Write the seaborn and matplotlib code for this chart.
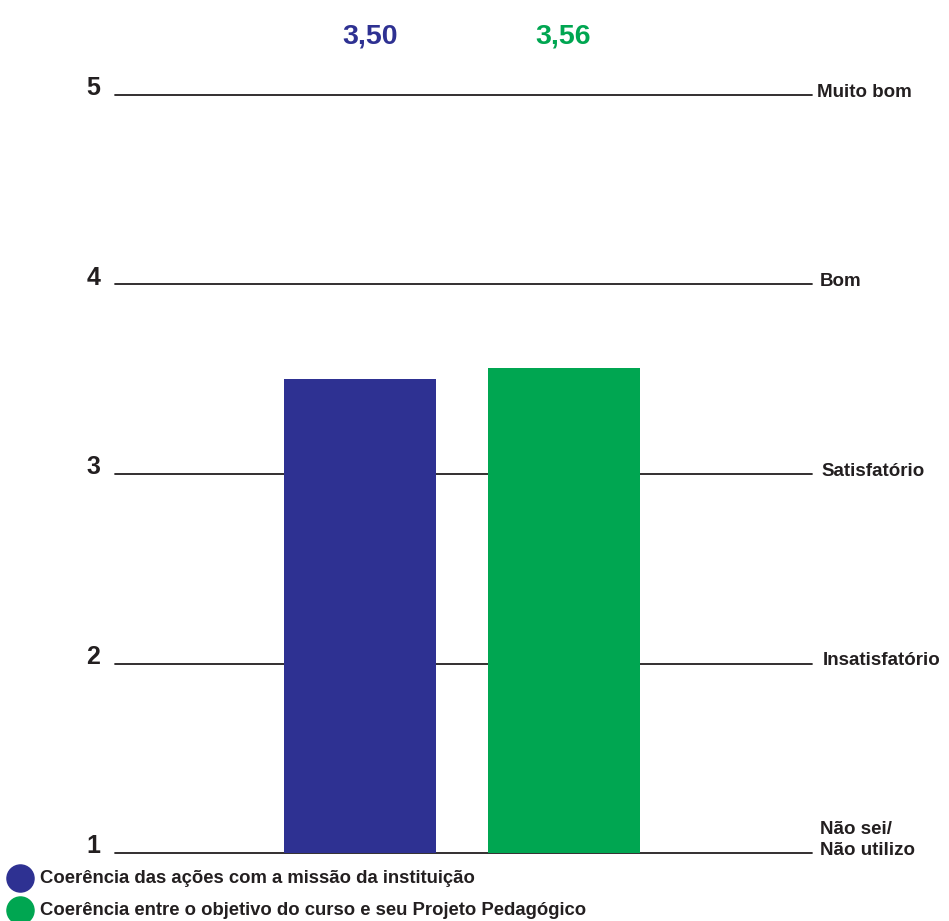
import matplotlib
matplotlib.use("Agg")
import matplotlib.pyplot as plt
from matplotlib.lines import Line2D
import seaborn as sns
import pandas as pd

categories = ["Coerência das ações com a missão da instituição",
              "Coerência entre o objetivo do curso e seu Projeto Pedagógico"]
values = [3.50, 3.56]
value_labels = ["3,50", "3,56"]
colors = ["#2E3192", "#00A651"]
scale_ticks = [1, 2, 3, 4, 5]
scale_labels = ["Não sei/\nNão utilizo", "Insatisfatório", "Satisfatório", "Bom", "Muito bom"]

sns.set_theme(style="white")
plt.rcParams['font.family'] = ['Liberation Sans', 'DejaVu Sans']
TXT = "#231F20"

fig = plt.figure(figsize=(9.49, 9.21), dpi=100)
ax = fig.add_axes([115/949, 68/921, 697/949, 758/921])

df = pd.DataFrame({"cat": categories, "val": values})
sns.barplot(data=df, x="cat", y="val", hue="cat", palette=colors,
            width=0.747, saturation=1, legend=False, ax=ax, zorder=3,
            linewidth=0, edgecolor="none")

ax.set_ylim(1, 5)
ax.set_xlim(-1.204, 2.221)

for t in scale_ticks:
    ax.axhline(t, color="#231F20", lw=1.3, zorder=1, clip_on=False)

for s in ax.spines.values():
    s.set_visible(False)
ax.set_xticks([])
ax.set_yticks([])
ax.set_xlabel("")
ax.set_ylabel("")

# left numeric labels
for t in scale_ticks:
    ax.text(-0.031, t + 0.035, str(t), transform=ax.get_yaxis_transform(),
            ha="center", va="center", fontsize=18, fontweight="bold", color=TXT)

# right descriptive labels
x_offsets = {5: 1.007, 4: 1.011, 3: 1.014, 2: 1.015, 1: 1.011}
for t, lab in zip(scale_ticks, scale_labels):
    if "\n" in lab:
        ax.text(x_offsets[t], t - 0.03, lab, transform=ax.get_yaxis_transform(),
                ha="left", va="bottom", fontsize=13.5, fontweight="bold",
                color=TXT, linespacing=1.3)
    else:
        ax.text(x_offsets[t], t + 0.015, lab, transform=ax.get_yaxis_transform(),
                ha="left", va="center", fontsize=13.5, fontweight="bold", color=TXT)

# value labels on top
for i, (v, lab, c) in enumerate(zip(values, value_labels, colors)):
    ax.text(i + 0.05 * (1 - i), 1.077, lab, transform=ax.get_xaxis_transform(),
            ha="center", va="center", fontsize=20.5, fontweight="bold", color=c)

# legend (manual entries)
for j, (cat, c) in enumerate(zip(categories, colors)):
    yy = 1 - (878 + 32 * j) / 921
    fig.add_artist(Line2D([20/949], [yy], marker="o", linestyle="", markersize=19.5,
                          markerfacecolor=c, markeredgecolor=c,
                          transform=fig.transFigure))
    fig.text(40/949, yy, cat, ha="left", va="center", fontsize=13.3,
             fontweight="bold", color=TXT)

fig.savefig("out.png", dpi=100)
